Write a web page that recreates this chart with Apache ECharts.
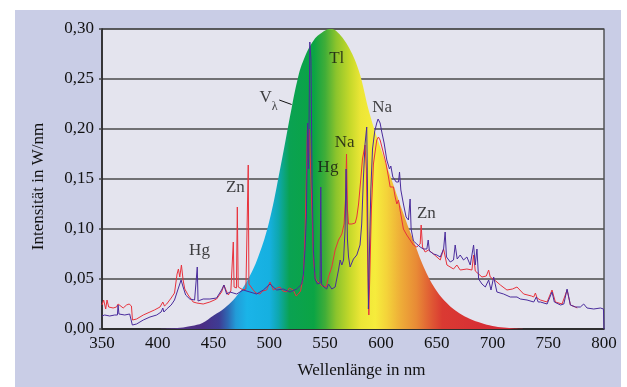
<!DOCTYPE html>
<html>
<head>
<meta charset="utf-8">
<script src="https://cdn.jsdelivr.net/npm/echarts@6/dist/echarts.min.js"></script>
<style>
  html, body { margin: 0; padding: 0; background: #fff; }
  #frame { position: absolute; left: 15px; top: 10px; width: 606px; height: 377px; background: #c9cde6; }
  #chart { position: absolute; left: 0; top: 0; width: 627px; height: 387px; }
</style>
</head>
<body>
<div id="frame"></div>
<div id="chart"></div>
<script>
  // V(lambda) curve, scaled to 0,30 at the peak
  const vNm = [400, 410, 420, 430, 440, 450, 460, 470, 480, 490, 500, 510, 520, 525, 530, 540, 550, 555, 560, 570, 580, 590, 600, 610, 620, 630, 640, 650, 660, 670, 680, 690, 700, 710, 720, 730];
  const vVal = [0, 0.0005, 0.0012, 0.003, 0.006, 0.0135, 0.021, 0.032, 0.048, 0.072, 0.108, 0.162, 0.221, 0.248, 0.267, 0.289, 0.2985, 0.300, 0.298, 0.284, 0.259, 0.215, 0.180, 0.148, 0.116, 0.086, 0.058, 0.038, 0.025, 0.016, 0.010, 0.006, 0.003, 0.0014, 0.0005, 0];

  // red lamp spectrum [nm, W/nm]
  const redLamp = [
    [350, 0.024], [351.5, 0.029], [353.3, 0.020], [354.5, 0.029], [356, 0.022], [360, 0.021], [363, 0.022],
    [364.4, 0.025], [366, 0.025], [369, 0.021], [372, 0.024], [374.3, 0.025], [376.4, 0.023], [377.3, 0.009],
    [381, 0.010], [387, 0.014], [393, 0.017], [397, 0.019], [402, 0.022], [404.5, 0.027], [406, 0.023],
    [408, 0.025], [412, 0.031], [415, 0.036], [417.3, 0.055], [418.5, 0.060], [419.7, 0.052], [421.2, 0.064],
    [422.7, 0.049], [424.2, 0.040], [427.2, 0.034], [431.7, 0.027], [435, 0.026], [440.7, 0.025], [446.7, 0.027],
    [452.7, 0.030], [457.2, 0.037], [459.3, 0.044], [461.1, 0.039], [463.2, 0.034], [465.5, 0.038], [467.1, 0.040],
    [467.7, 0.087], [468.4, 0.042], [470.5, 0.041], [471.3, 0.122], [472.1, 0.042], [473.5, 0.040], [476.6, 0.039],
    [479, 0.040], [480.5, 0.041], [481.1, 0.164], [481.7, 0.045], [483, 0.047], [485.6, 0.039], [488, 0.036],
    [491.6, 0.035], [494, 0.038], [497.6, 0.039], [500.6, 0.047], [503.6, 0.039], [507, 0.041], [509.6, 0.042],
    [512, 0.038], [515.5, 0.037], [518, 0.041], [521.5, 0.039], [524, 0.033], [526, 0.035], [528, 0.038],
    [529, 0.044], [530.5, 0.052], [532, 0.095], [533.2, 0.152], [534.2, 0.205], [535, 0.170], [536, 0.200],
    [537, 0.160], [538.5, 0.110], [539.5, 0.070], [541, 0.052], [542.5, 0.048], [544, 0.050], [545.5, 0.045],
    [547.5, 0.043], [549, 0.045], [551, 0.042], [553, 0.052], [556, 0.062], [559, 0.079], [562, 0.089],
    [565, 0.095], [567, 0.105], [568.3, 0.130], [569.2, 0.175], [570, 0.120], [571, 0.105], [574, 0.105],
    [577, 0.106], [578.4, 0.112], [580, 0.125], [582, 0.150], [583.5, 0.170], [585.8, 0.184], [587, 0.160],
    [588, 0.080], [589.2, 0.014], [590.2, 0.060], [591.5, 0.120], [593.3, 0.165], [596.3, 0.189], [597.8, 0.192],
    [599.3, 0.189], [602.3, 0.176], [604.7, 0.165], [606.8, 0.152], [608.3, 0.142], [609.8, 0.140], [611.3, 0.142],
    [612.8, 0.132], [614.3, 0.125], [615.8, 0.129], [617.2, 0.119], [620.2, 0.100], [623.2, 0.094], [626.2, 0.089],
    [629.2, 0.084], [632.2, 0.082], [635.2, 0.085], [636.1, 0.104], [637.3, 0.082], [639.7, 0.077], [642.7, 0.079],
    [647.2, 0.075], [653.2, 0.069], [656.2, 0.080], [657.6, 0.078], [659.2, 0.064], [665.1, 0.060], [668.1, 0.064],
    [671.1, 0.059], [677.1, 0.060], [681.6, 0.059], [683.1, 0.074], [684.6, 0.058], [686.1, 0.057], [690.6, 0.052],
    [694.5, 0.053], [696.6, 0.059], [698, 0.052], [699.6, 0.054], [703, 0.048], [707.1, 0.044], [713, 0.039],
    [718, 0.040], [722, 0.042], [728, 0.035], [735, 0.033], [737, 0.032], [738.5, 0.036], [740, 0.031],
    [743, 0.029], [749, 0.027], [753.4, 0.039], [756.4, 0.027], [762.4, 0.025], [766.9, 0.039], [769.9, 0.024],
    [774.4, 0.022], [776, 0.021]
  ];

  // blue lamp spectrum [nm, W/nm]
  const blueLamp = [
    [350, 0.013], [352.4, 0.014], [356.9, 0.013], [361.4, 0.014], [363.8, 0.014], [364.4, 0.024], [365.2, 0.015],
    [370.4, 0.014], [374.8, 0.015], [376.5, 0.014], [377.2, 0.004], [381, 0.005], [387, 0.009], [393, 0.012],
    [399, 0.014], [403, 0.017], [404.5, 0.021], [405.5, 0.017], [408, 0.020], [412, 0.024], [415, 0.029],
    [418.2, 0.040], [419.7, 0.045], [420.9, 0.049], [422.7, 0.042], [425, 0.034], [428.7, 0.030], [433, 0.029],
    [434.6, 0.030], [435.4, 0.062], [436.1, 0.028], [440.7, 0.030], [446.7, 0.030], [452.7, 0.031], [457.2, 0.039],
    [459.3, 0.044], [461.7, 0.035], [464.7, 0.037], [470.7, 0.035], [476.6, 0.039], [482.6, 0.037], [488.6, 0.035],
    [494.6, 0.039], [500.6, 0.045], [506.6, 0.039], [512.5, 0.040], [518.5, 0.037], [524.5, 0.040], [529, 0.045],
    [530.5, 0.054], [532, 0.080], [533.2, 0.112], [534.3, 0.206], [535.2, 0.160], [536.3, 0.287], [537.3, 0.270],
    [538.3, 0.150], [539.5, 0.079], [541, 0.050], [543, 0.045], [545.5, 0.046], [546.1, 0.142], [546.8, 0.045],
    [549, 0.042], [551.4, 0.040], [553, 0.045], [556, 0.040], [559, 0.042], [562, 0.059], [563.5, 0.069],
    [565, 0.064], [566.5, 0.069], [567.9, 0.100], [568.8, 0.160], [570, 0.090], [571, 0.072], [572.4, 0.062],
    [575.4, 0.070], [578.4, 0.074], [581.3, 0.084], [582.8, 0.105], [584.3, 0.150], [585.8, 0.185], [587.3, 0.202],
    [588, 0.140], [588.8, 0.020], [589.8, 0.080], [591, 0.140], [592.5, 0.180], [594.5, 0.198], [596.3, 0.206],
    [597.5, 0.210], [599.3, 0.206], [600.8, 0.197], [602.9, 0.186], [605.3, 0.169], [607.7, 0.160], [608.9, 0.163],
    [610.7, 0.152], [613.7, 0.147], [615.8, 0.147], [616.7, 0.157], [617.9, 0.139], [620.2, 0.125], [622.6, 0.112],
    [624.7, 0.109], [626.2, 0.130], [627.1, 0.100], [629.2, 0.088], [632.2, 0.085], [635.2, 0.082], [638.2, 0.080],
    [641.2, 0.080], [642.4, 0.089], [643.5, 0.078], [647.2, 0.075], [650.2, 0.074], [653.2, 0.072], [656.2, 0.080],
    [657.6, 0.097], [658.8, 0.072], [662.2, 0.067], [665.1, 0.069], [666.6, 0.084], [668.4, 0.070], [671.1, 0.074],
    [674.1, 0.069], [677.1, 0.072], [680.1, 0.064], [683.1, 0.084], [684.6, 0.064], [686.1, 0.080], [687.6, 0.050],
    [690.6, 0.045], [693.6, 0.042], [696.6, 0.049], [698.7, 0.039], [701.1, 0.052], [704, 0.037], [710, 0.035],
    [716, 0.032], [722, 0.032], [725, 0.030], [731, 0.029], [737, 0.027], [739.3, 0.032], [741, 0.027],
    [743, 0.027], [749, 0.025], [753.4, 0.037], [755.5, 0.027], [761, 0.024], [764, 0.025], [766.9, 0.040],
    [769.9, 0.024], [774.4, 0.022], [778.8, 0.022], [781.8, 0.025], [784.8, 0.021], [790.8, 0.020], [796.8, 0.021],
    [799.5, 0.020], [800, 0.000]
  ];

  // line annotations
  const labelText = ['Hg', 'Zn', 'Hg', 'Na', 'Na', 'Tl', 'Zn', 'V', 'λ'];
  const labelNm = [437.4, 469.6, 552.6, 567.6, 601.1, 560.4, 640.8, 496.7, 504.8];
  const labelVal = [0.078, 0.141, 0.161, 0.186, 0.221, 0.270, 0.1155, 0.2314, 0.2225];
  const leaderNm = [508.9, 520.0];
  const leaderVal = [0.229, 0.2245];

  const xMin = 350, xMax = 800;
  const gridLeft = 102, gridRight = 23;
  const plotW = 627 - gridLeft - gridRight;
  const font = '"Liberation Serif", "DejaVu Serif", serif';

  // rainbow along the wavelength axis, in screen pixels
  const spectrumStops = [
    [400, '#5a3a8e'], [440, '#4a2c84'], [455, '#3e3c94'], [463, '#2e6ab4'], [470, '#229cd8'],
    [480, '#1ab4e8'], [500, '#16b0e0'], [508, '#0ea8b0'], [518, '#0aa252'], [540, '#0ba444'],
    [550, '#40ad38'], [560, '#8cc42c'], [572, '#c4d82a'], [582, '#ece636'], [595, '#f6ec3c'],
    [605, '#f4d43a'], [618, '#eeac38'], [632, '#e88a36'], [645, '#e05a34'], [655, '#da3a32'], [700, '#d62c36']
  ];
  let rainbow = new echarts.graphic.LinearGradient(gridLeft, 0, gridLeft + plotW, 0,
    spectrumStops.map(function (s) {
      return {offset: (s[0] - xMin) / (xMax - xMin), color: s[1]};
    }), true);

  let myChart = echarts.init(document.getElementById('chart'), null, {renderer: 'canvas'});
  myChart.setOption({
    backgroundColor: 'transparent',
    animation: false,
    grid: {
      left: gridLeft,
      right: gridRight,
      top: 29,
      bottom: 58,
      show: true,
      backgroundColor: '#e4e4ee',
      borderColor: '#333',
      borderWidth: 1.2
    },
    xAxis: {
      type: 'value',
      min: xMin,
      max: xMax,
      interval: 50,
      name: 'Wellenlänge in nm',
      nameLocation: 'middle',
      nameGap: 33,
      nameTextStyle: {color: '#111', fontSize: 17, fontFamily: font, padding: [0, 0, 0, 17]},
      axisLine: {lineStyle: {color: '#222', width: 1.5}},
      axisTick: {show: false},
      splitLine: {show: false},
      axisLabel: {color: '#111', fontSize: 17, fontFamily: font, margin: 6}
    },
    yAxis: {
      type: 'value',
      min: 0,
      max: 0.3,
      interval: 0.05,
      name: 'Intensität in W/nm',
      nameLocation: 'middle',
      nameGap: 55,
      nameTextStyle: {color: '#111', fontSize: 17, fontFamily: font, padding: [0, 15, 0, 0]},
      axisLine: {show: true, lineStyle: {color: '#222', width: 1.5}},
      axisTick: {show: true, length: 3, lineStyle: {color: '#444', width: 1.5}},
      splitLine: {lineStyle: {color: '#4a4a4a', width: 1.5}},
      axisLabel: {
        color: '#111',
        fontSize: 17,
        fontFamily: font,
        margin: 8,
        formatter: function (v) {
          return v.toFixed(2).replace('.', ',');
        }
      }
    },
    series: [
      {
        name: 'V',
        type: 'line',
        smooth: 0.4,
        symbol: 'none',
        z: 1,
        lineStyle: {width: 0},
        areaStyle: {color: rainbow, opacity: 1},
        data: vNm.map(function (n, i) { return [n, vVal[i]]; })
      },
      {
        name: 'rot',
        type: 'line',
        symbol: 'none',
        z: 3,
        lineStyle: {color: '#e8323c', width: 1},
        data: redLamp
      },
      {
        name: 'blau',
        type: 'line',
        symbol: 'none',
        z: 4,
        lineStyle: {color: '#4a2c9c', width: 1},
        data: blueLamp
      },
      {
        type: 'line',
        symbol: 'none',
        z: 5,
        lineStyle: {color: '#111', width: 1},
        data: leaderNm.map(function (n, i) { return [n, leaderVal[i]]; })
      },
      {
        type: 'scatter',
        symbolSize: 0,
        z: 6,
        silent: true,
        itemStyle: {color: 'rgba(0,0,0,0)'},
        label: {
          show: true,
          position: 'inside',
          color: '#111',
          fontFamily: font,
          fontSize: 17,
          formatter: function (p) { return p.name; }
        },
        data: labelText.map(function (t, i) {
          let d = {name: t, value: [labelNm[i], labelVal[i]]};
          if (t === 'λ') {
            d.label = {fontSize: 12};
          }
          return d;
        })
      }
    ]
  });
</script>
</body>
</html>
